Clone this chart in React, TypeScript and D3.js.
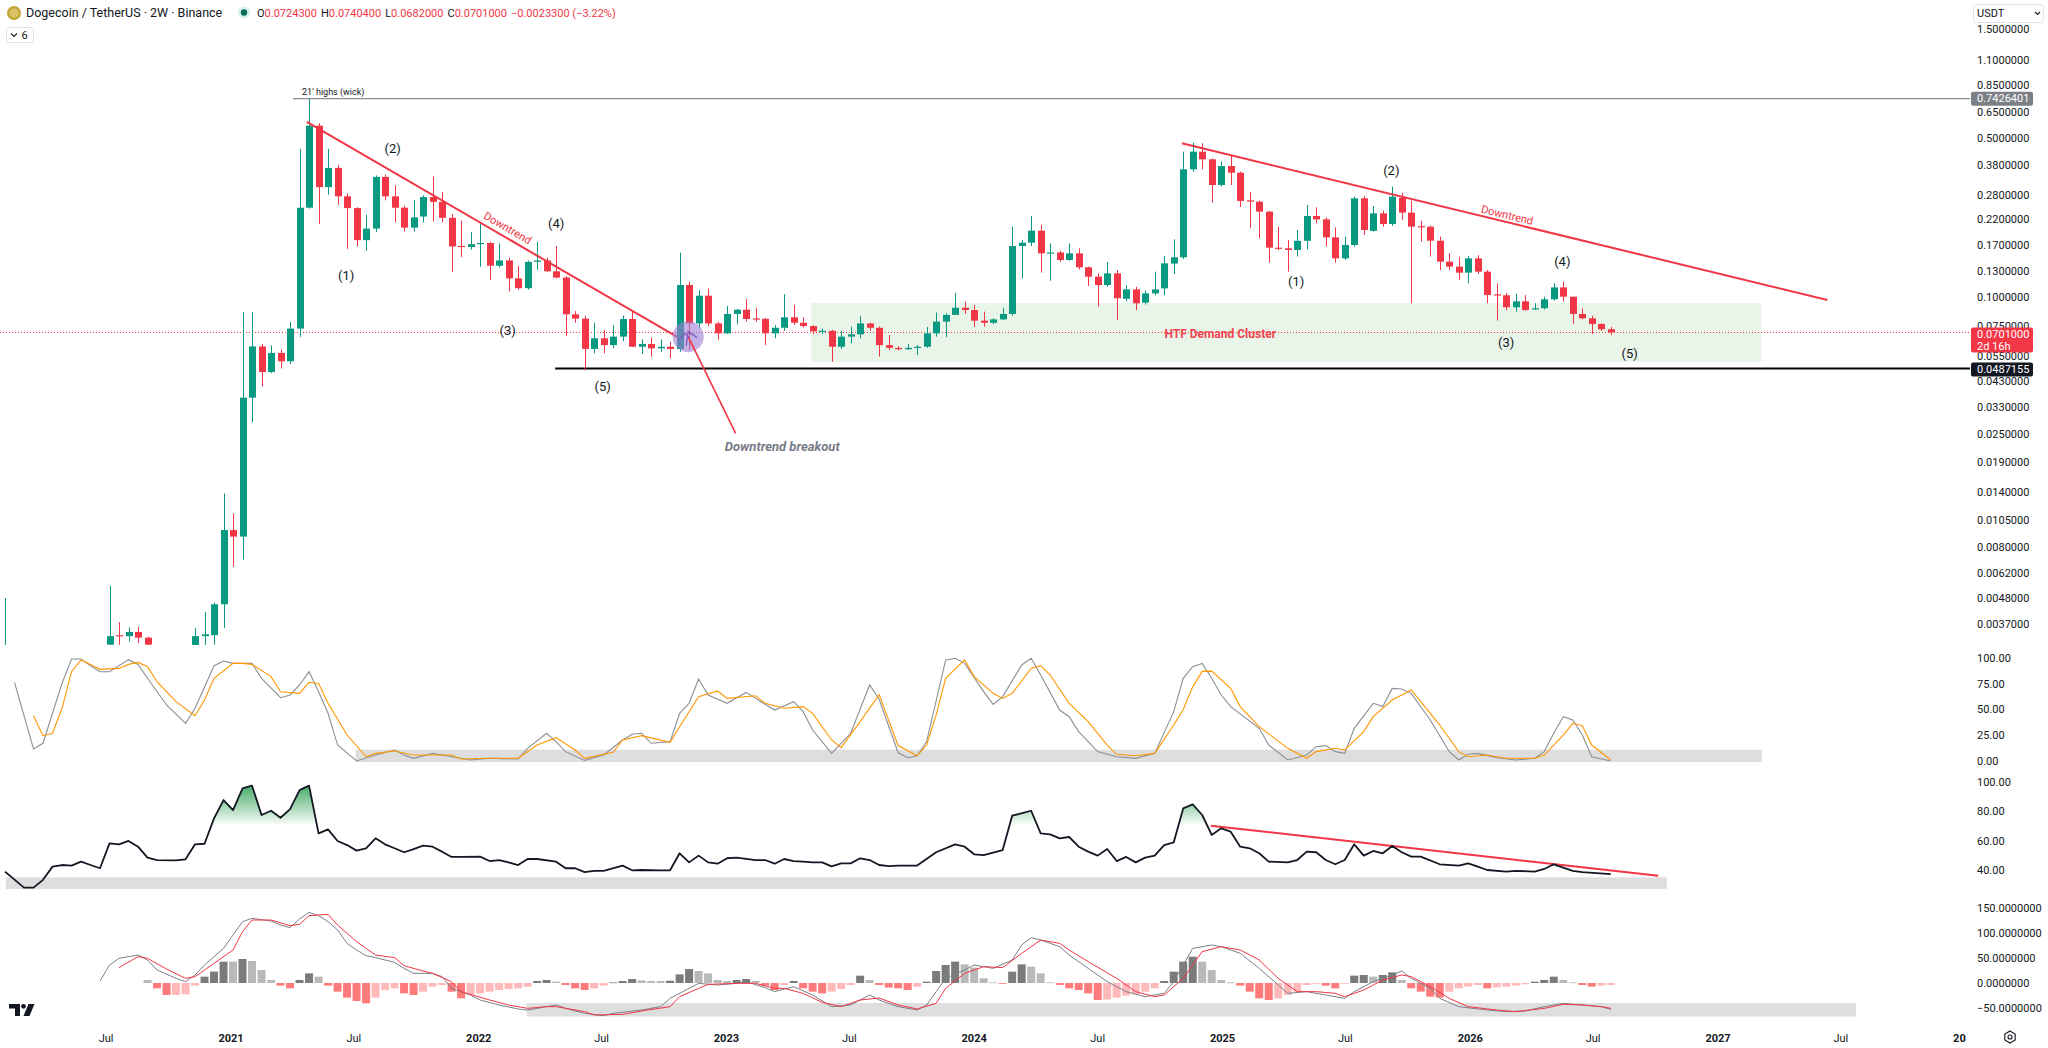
import React from 'react';
import * as d3 from 'd3';

// ---------- DATA ----------
// bar index k -> 2W bar opening 2020-07-06 + 14k days
// [k, open, high, low, close]
const candles: [number, number, number, number, number][] = [
  [-11, 0.0028, 0.0048, 0.0026, 0.0029],
  [0, 0.0030, 0.00544, 0.0029, 0.00327],
  [1, 0.0033, 0.00377, 0.0029, 0.00326],
  [2, 0.00327, 0.00357, 0.0031, 0.00341],
  [3, 0.00341, 0.0036, 0.00305, 0.00322],
  [4, 0.00322, 0.00325, 0.0029, 0.0030],
  [9, 0.0029, 0.00355, 0.0028, 0.00327],
  [10, 0.00327, 0.00417, 0.0029, 0.00333],
  [11, 0.0033, 0.0046, 0.003, 0.00451],
  [12, 0.00451, 0.0138, 0.00355, 0.00954],
  [13, 0.00954, 0.0113, 0.00658, 0.00893],
  [14, 0.00893, 0.086, 0.00708, 0.0363],
  [15, 0.0363, 0.086, 0.0283, 0.0609],
  [16, 0.0609, 0.0625, 0.0406, 0.047],
  [17, 0.047, 0.0615, 0.0465, 0.057],
  [18, 0.057, 0.059, 0.0487, 0.0524],
  [19, 0.0524, 0.0778, 0.051, 0.0729],
  [20, 0.0729, 0.447, 0.067, 0.247],
  [21, 0.247, 0.74, 0.245, 0.565],
  [22, 0.565, 0.58, 0.2097, 0.304],
  [23, 0.304, 0.447, 0.282, 0.369],
  [24, 0.369, 0.38, 0.254, 0.277],
  [25, 0.277, 0.285, 0.163, 0.246],
  [26, 0.246, 0.248, 0.167, 0.178],
  [27, 0.178, 0.23, 0.16, 0.2],
  [28, 0.2, 0.342, 0.193, 0.337],
  [29, 0.337, 0.345, 0.266, 0.277],
  [30, 0.277, 0.31, 0.213, 0.247],
  [31, 0.247, 0.252, 0.194, 0.202],
  [32, 0.202, 0.267, 0.194, 0.224],
  [33, 0.226, 0.28, 0.213, 0.275],
  [34, 0.275, 0.338, 0.215, 0.262],
  [35, 0.262, 0.29, 0.213, 0.223],
  [36, 0.223, 0.232, 0.129, 0.167],
  [37, 0.168, 0.217, 0.15, 0.166],
  [38, 0.166, 0.193, 0.162, 0.171],
  [39, 0.171, 0.212, 0.136, 0.173],
  [40, 0.173, 0.175, 0.119, 0.1375],
  [41, 0.1375, 0.172, 0.135, 0.145],
  [42, 0.145, 0.149, 0.106, 0.121],
  [43, 0.121, 0.137, 0.108, 0.1096],
  [44, 0.1096, 0.145, 0.108, 0.143],
  [45, 0.143, 0.175, 0.132, 0.145],
  [46, 0.145, 0.149, 0.129, 0.13],
  [47, 0.13, 0.168, 0.121, 0.122],
  [48, 0.122, 0.124, 0.0678, 0.0842],
  [49, 0.0842, 0.087, 0.0774, 0.0806],
  [50, 0.0806, 0.083, 0.0478, 0.0594],
  [51, 0.0594, 0.0773, 0.0568, 0.0661],
  [52, 0.0661, 0.0718, 0.0568, 0.0617],
  [53, 0.0617, 0.0755, 0.0598, 0.0672],
  [54, 0.0672, 0.0832, 0.0641, 0.0803],
  [55, 0.0803, 0.0879, 0.0605, 0.0607],
  [56, 0.0607, 0.0654, 0.0565, 0.0624],
  [57, 0.0624, 0.0666, 0.0549, 0.0597],
  [58, 0.0597, 0.0654, 0.0577, 0.0607],
  [59, 0.0607, 0.0639, 0.054, 0.0593],
  [60, 0.0593, 0.1569, 0.0577, 0.1132],
  [61, 0.1132, 0.117, 0.0587, 0.0768],
  [62, 0.0768, 0.1075, 0.0735, 0.1016],
  [63, 0.1016, 0.1094, 0.075, 0.0768],
  [64, 0.0768, 0.0782, 0.065, 0.0695],
  [65, 0.0695, 0.0915, 0.069, 0.0845],
  [66, 0.0845, 0.089, 0.0763, 0.0882],
  [67, 0.0882, 0.0983, 0.0782, 0.0803],
  [68, 0.0808, 0.09, 0.0782, 0.0803],
  [69, 0.0805, 0.081, 0.0617, 0.0695],
  [70, 0.0695, 0.0755, 0.0661, 0.0735],
  [71, 0.0735, 0.1033, 0.0713, 0.0817],
  [72, 0.0817, 0.0925, 0.0755, 0.0773],
  [73, 0.0773, 0.0817, 0.0738, 0.0748],
  [74, 0.0748, 0.0755, 0.069, 0.0709],
  [75, 0.0709, 0.073, 0.069, 0.0713],
  [76, 0.0713, 0.072, 0.0522, 0.0607],
  [77, 0.0607, 0.0713, 0.0593, 0.0672],
  [78, 0.0672, 0.0743, 0.0628, 0.0688],
  [79, 0.0688, 0.0827, 0.0661, 0.0768],
  [80, 0.0768, 0.0773, 0.0713, 0.0735],
  [81, 0.0735, 0.0743, 0.0549, 0.0617],
  [82, 0.0617, 0.0683, 0.0587, 0.06],
  [83, 0.06, 0.061, 0.0585, 0.0592],
  [84, 0.0592, 0.0624, 0.0587, 0.06],
  [85, 0.06, 0.0617, 0.0559, 0.0607],
  [86, 0.0607, 0.074, 0.06, 0.0695],
  [87, 0.0695, 0.0858, 0.0672, 0.0782],
  [88, 0.0782, 0.085, 0.0668, 0.0837],
  [89, 0.0837, 0.1045, 0.0837, 0.09],
  [90, 0.09, 0.0956, 0.0845, 0.0879],
  [91, 0.0879, 0.0925, 0.0743, 0.079],
  [92, 0.079, 0.0865, 0.0743, 0.0773],
  [93, 0.0773, 0.0808, 0.0763, 0.08],
  [94, 0.08, 0.09, 0.0795, 0.0845],
  [95, 0.0845, 0.2039, 0.083, 0.1678],
  [96, 0.1678, 0.178, 0.1207, 0.1735],
  [97, 0.1735, 0.2274, 0.1678, 0.1959],
  [98, 0.1959, 0.2084, 0.1282, 0.1558],
  [99, 0.1555, 0.1723, 0.1182, 0.1572],
  [100, 0.1572, 0.16, 0.1432, 0.1457],
  [101, 0.1457, 0.1723, 0.1445, 0.1558],
  [102, 0.1558, 0.1639, 0.1322, 0.1353],
  [103, 0.1353, 0.1362, 0.112, 0.1231],
  [104, 0.1231, 0.1273, 0.091, 0.1132],
  [105, 0.1132, 0.1427, 0.1113, 0.1273],
  [106, 0.1273, 0.1317, 0.0795, 0.099],
  [107, 0.0985, 0.113, 0.096, 0.1083],
  [108, 0.1083, 0.1113, 0.0879, 0.0941],
  [109, 0.0947, 0.107, 0.093, 0.104],
  [110, 0.104, 0.1295, 0.102, 0.1083],
  [111, 0.1094, 0.1517, 0.102, 0.1409],
  [112, 0.1405, 0.1795, 0.1265, 0.1497],
  [113, 0.1497, 0.4348, 0.147, 0.3638],
  [114, 0.3638, 0.476, 0.355, 0.4348],
  [115, 0.4348, 0.473, 0.3638, 0.4024],
  [116, 0.4024, 0.406, 0.2598, 0.3106],
  [117, 0.3106, 0.394, 0.3054, 0.3762],
  [118, 0.3762, 0.42, 0.3106, 0.3517],
  [119, 0.3517, 0.3553, 0.2488, 0.2644],
  [120, 0.266, 0.29, 0.2005, 0.2625],
  [121, 0.2625, 0.2652, 0.1813, 0.2373],
  [122, 0.2373, 0.239, 0.1418, 0.165],
  [123, 0.165, 0.2039, 0.1612, 0.1639],
  [124, 0.1639, 0.178, 0.1295, 0.1612],
  [125, 0.1612, 0.1972, 0.1508, 0.1768],
  [126, 0.1768, 0.2538, 0.1622, 0.2272],
  [127, 0.2272, 0.248, 0.2109, 0.2196],
  [128, 0.2196, 0.224, 0.1667, 0.1831],
  [129, 0.1831, 0.2025, 0.1418, 0.1481],
  [130, 0.1481, 0.1844, 0.1457, 0.1695],
  [131, 0.1695, 0.2761, 0.1667, 0.2715],
  [132, 0.2715, 0.278, 0.1875, 0.1972],
  [133, 0.1955, 0.251, 0.1939, 0.2333],
  [134, 0.2333, 0.24, 0.2039, 0.2095],
  [135, 0.2095, 0.3054, 0.2054, 0.2761],
  [136, 0.2733, 0.287, 0.2181, 0.235],
  [137, 0.235, 0.2652, 0.0941, 0.2039],
  [138, 0.205, 0.2165, 0.1753, 0.2039],
  [139, 0.2039, 0.206, 0.1508, 0.177],
  [140, 0.177, 0.1844, 0.1317, 0.1432],
  [141, 0.1432, 0.156, 0.1317, 0.1362],
  [142, 0.1362, 0.1502, 0.119, 0.1282],
  [143, 0.1282, 0.1517, 0.1151, 0.1481],
  [144, 0.1481, 0.153, 0.1265, 0.1295],
  [145, 0.1295, 0.1317, 0.0941, 0.1023],
  [146, 0.103, 0.1151, 0.079, 0.102],
  [147, 0.102, 0.1045, 0.0879, 0.0904],
  [148, 0.0904, 0.1037, 0.0865, 0.096],
  [149, 0.096, 0.1023, 0.0873, 0.0879],
  [150, 0.089, 0.0941, 0.0879, 0.0895],
  [151, 0.0895, 0.1006, 0.0885, 0.098],
  [152, 0.098, 0.1151, 0.0966, 0.1105],
  [153, 0.1105, 0.117, 0.096, 0.1006],
  [154, 0.1006, 0.1006, 0.0764, 0.0845],
  [155, 0.0845, 0.0894, 0.08, 0.0809],
  [156, 0.0809, 0.083, 0.069, 0.0764],
  [157, 0.0764, 0.0769, 0.0712, 0.0724],
  [158, 0.07243, 0.07404, 0.0682, 0.0701],
];

const priceTicks = [1.5, 1.1, 0.85, 0.65, 0.5, 0.38, 0.28, 0.22, 0.17, 0.13, 0.1, 0.075, 0.055, 0.043, 0.033, 0.025, 0.019, 0.014, 0.0105, 0.008, 0.0062, 0.0048, 0.0037];
const stochTicks = [100, 75, 50, 25, 0];
const rsiTicks = [100, 80, 60, 40];
const macdTicks = [150, 100, 50, 0, -50];
const timeTicks: [string, string, boolean][] = [
  ['2020-07-01', 'Jul', false], ['2021-01-01', '2021', true], ['2021-07-01', 'Jul', false],
  ['2022-01-01', '2022', true], ['2022-07-01', 'Jul', false], ['2023-01-01', '2023', true],
  ['2023-07-01', 'Jul', false], ['2024-01-01', '2024', true], ['2024-07-01', 'Jul', false],
  ['2025-01-01', '2025', true], ['2025-07-01', 'Jul', false], ['2026-01-01', '2026', true],
  ['2026-07-01', 'Jul', false], ['2027-01-01', '2027', true], ['2027-07-01', 'Jul', false],
  ['2028-01-01', '2028', true],
];

// Stoch RSI %K and %D  [k, value]
const stochK: [number, number][] = [
  [-10, 76.4], [-8, 11.7], [-7, 17.2], [-5, 75.3], [-4, 99], [-3, 99], [-2, 92.5], [-1, 86.7], [0, 86.7], [2, 98.4], [3, 93.8], [4, 80.3], [6, 54.4], [8, 36.6], [9, 51.2], [11, 92.5], [12, 97.1], [13, 94.8], [15, 94.8], [16, 80.3], [18, 61.5], [19, 64.1], [20, 73.8], [21, 86.7], [22, 67.3], [23, 46.3], [24, 15.5], [26, 0], [28, 5.8], [30, 10.7], [31, 5.8], [32, 2.6], [34, 7.4], [36, 4.2], [38, 1.0], [40, 2.6], [43, 1.9], [44, 12.3], [46, 26.9], [47, 18.8], [48, 9.1], [50, 0.6], [52, 5.8], [54, 20.4], [55, 25.9], [56, 26.9], [57, 17.2], [59, 18.8], [60, 46.3], [61, 56.0], [62, 79.6], [63, 64.1], [65, 56.0], [67, 66.6], [68, 60.8], [70, 49.5], [72, 57.6], [73, 47.9], [74, 30.1], [76, 7.4], [78, 26.9], [80, 73.8], [81, 60], [83, 8], [84, 3.2], [85, 5.1], [86, 18.8], [88, 98.1], [89, 99.7], [90, 94.8], [92, 67.3], [93, 55.0], [94, 62.5], [96, 93.2], [97, 99.7], [98, 83.5], [100, 49.5], [101, 43.0], [102, 28.5], [104, 9.1], [106, 4.2], [108, 2.6], [110, 7.4], [112, 47.9], [113, 80.3], [114, 91.6], [115, 94.8], [116, 80.3], [117, 64.1], [118, 52.8], [121, 31.7], [122, 15.5], [124, 1.0], [126, 5.8], [127, 13.9], [128, 14.9], [129, 9.1], [130, 7.4], [131, 31.7], [133, 56.0], [134, 52.8], [135, 70.5], [136, 69.9], [137, 65.7], [139, 39.8], [141, 9.1], [142, 1.0], [143, 6.5], [144, 7.4], [146, 3.2], [148, 1.0], [150, 2.6], [151, 9.1], [152, 26.9], [153, 43.0], [154, 39.8], [155, 25.2], [156, 4.2], [158, 0],
];
const stochD: [number, number][] = [
  [-8, 44.0], [-7, 24.6], [-6, 26.9], [-5, 51.2], [-4, 86.7], [-3, 98.1], [-2, 93.8], [-1, 89.0], [1, 89.9], [2, 93.8], [3, 95.7], [4, 91.6], [5, 77.0], [7, 57.6], [9, 44.0], [10, 59.2], [11, 80.3], [13, 94.8], [14, 94.8], [15, 93.8], [17, 81.9], [18, 67.3], [20, 65.7], [21, 76.4], [22, 75.3], [23, 56.0], [25, 25.2], [27, 4.2], [28, 7.4], [30, 9.7], [32, 5.8], [34, 5.8], [36, 5.8], [37, 1.9], [40, 2.6], [43, 2.6], [45, 15.5], [47, 22.7], [49, 10.7], [50, 2.6], [53, 8.4], [54, 20.4], [56, 24.6], [59, 18.1], [60, 33.3], [62, 62.5], [64, 68.0], [65, 60.8], [68, 63.4], [69, 56.0], [71, 51.2], [73, 52.8], [74, 46.3], [76, 20.4], [77, 13.0], [79, 38.2], [81, 64.4], [83, 15], [85, 5.1], [86, 15.5], [87, 44.7], [88, 80.3], [90, 98.1], [91, 81.9], [93, 65.7], [94, 60.8], [95, 65.7], [97, 89.9], [98, 92.5], [99, 83.5], [101, 56.0], [103, 38.2], [105, 15.5], [106, 6.5], [108, 5.1], [110, 7.4], [112, 34.9], [113, 50], [114, 72], [115, 87], [116, 87.3], [118, 70.5], [119, 52.8], [121, 33.3], [124, 12.3], [126, 2.6], [127, 9.1], [129, 12.3], [130, 10.7], [132, 28.5], [133, 43.0], [135, 59.2], [137, 69.0], [138, 57.6], [140, 34.9], [142, 9.1], [143, 4.2], [145, 5.8], [147, 2.6], [150, 2.6], [151, 5.8], [153, 25.2], [154, 36.6], [155, 34.3], [156, 15.5], [158, 1.0],
];

// RSI [k, value]
const rsi: [number, number][] = [
  [-11, 38.9], [-9, 28.0], [-8, 28.0], [-7, 33.3], [-6, 42.3], [-5, 43.4], [-4, 43.0], [-3, 45.7], [-2, 43.4], [-1, 41.2], [0, 58.2], [1, 57.5], [2, 59.8], [3, 55.9], [4, 48.4], [5, 46.8], [7, 46.6], [8, 47.3], [9, 57.5], [10, 57.9], [11, 75.2], [12, 87.7], [13, 80.9], [14, 95.6], [15, 97.5], [16, 77.5], [17, 80.4], [18, 75.6], [19, 81.5], [20, 94.5], [21, 97.5], [22, 65.0], [23, 67.7], [24, 59.8], [25, 57.0], [26, 53.2], [27, 54.8], [28, 61.6], [29, 57.5], [30, 54.8], [31, 52.1], [32, 54.3], [33, 56.6], [34, 55.9], [35, 52.5], [36, 48.9], [37, 48.9], [39, 49.1], [40, 46.1], [41, 46.8], [42, 45.2], [43, 43.4], [44, 47.5], [45, 47.5], [47, 45.7], [48, 41.2], [49, 41.2], [50, 38.5], [51, 39.4], [52, 39.4], [54, 43.0], [55, 39.8], [56, 40.0], [58, 39.8], [59, 39.8], [60, 51.4], [61, 45.2], [62, 49.8], [63, 45.2], [64, 44.3], [65, 48.0], [66, 48.4], [68, 46.8], [69, 46.8], [70, 44.3], [71, 47.5], [72, 46.1], [73, 45.7], [74, 45.2], [75, 45.2], [76, 42.5], [77, 44.5], [78, 44.5], [79, 48.0], [80, 46.8], [81, 43.4], [82, 42.7], [83, 43.0], [85, 43.0], [87, 52.1], [89, 57.5], [90, 55.9], [91, 50.7], [92, 50.2], [94, 53.6], [95, 77.0], [97, 80.4], [98, 65.0], [99, 64.3], [100, 61.6], [101, 62.5], [102, 55.9], [103, 52.5], [104, 49.8], [105, 54.3], [106, 46.1], [107, 48.9], [108, 45.2], [109, 48.4], [110, 49.8], [111, 57.0], [112, 58.8], [113, 82.0], [114, 84.7], [115, 77.5], [116, 63.9], [117, 68.4], [118, 66.1], [119, 55.9], [120, 54.8], [121, 51.4], [122, 45.7], [124, 45.2], [125, 46.8], [126, 52.5], [127, 52.1], [128, 46.8], [129, 43.9], [130, 46.8], [131, 57.5], [132, 49.8], [133, 53.0], [134, 51.4], [135, 56.4], [136, 52.1], [137, 49.1], [138, 49.1], [140, 43.9], [142, 43.0], [143, 44.5], [144, 42.3], [145, 40.0], [147, 38.9], [148, 39.4], [150, 38.9], [151, 40.7], [152, 43.9], [154, 39.4], [155, 38.5], [158, 37.2],
];

// MACD line, signal, histogram [k, value]
const macdLine: [number, number][] = [
  [-1, 4.0], [0, 36.0], [1, 49.3], [3, 56.0], [4, 46.0], [5, 26.0], [7, 9.3], [8, 2.7], [9, 16.0], [10, 36], [11, 52.7], [12, 69.3], [13, 96.0], [14, 122.7], [15, 129.3], [17, 124.0], [18, 116.0], [19, 110.7], [20, 128.0], [21, 141.3], [22, 134.7], [23, 122.7], [24, 106], [25, 79.3], [26, 66], [27, 54.7], [28, 50.7], [30, 41.3], [31, 29.3], [32, 19.3], [34, 19.3], [35, 12.7], [36, -10.7], [38, -24.0], [39, -34.0], [41, -44.0], [43, -52.0], [44, -54.0], [47, -44.0], [48, -50.7], [50, -60.7], [52, -65.3], [53, -60.7], [56, -54.0], [58, -47.3], [59, -30.7], [61, -10.7], [62, -0.7], [64, -4.0], [66, -0.7], [67, 2.7], [69, -9.3], [70, -17.3], [72, -7.3], [74, -24.0], [76, -47.3], [78, -44.0], [80, -24.0], [81, -34], [83, -47.3], [85, -54], [86, -44], [87, -17.3], [88, 9.3], [90, 26], [91, 36], [92, 32.7], [93, 29.3], [95, 46], [96, 76], [97, 90.7], [98, 86], [100, 72.7], [101, 56], [103, 29.3], [105, 2.7], [107, -17.3], [109, -27.3], [111, -20.7], [112, 2.7], [113, 36], [114, 69.3], [116, 76], [117, 72.7], [119, 59.3], [121, 29.3], [123, -4], [124, -20.7], [126, -17.3], [128, -24], [130, -30.7], [131, -17.3], [133, 2.7], [135, 16], [136, 24], [137, 9.3], [139, -10.7], [140, -30.7], [142, -47.3], [145, -54], [147, -57.3], [149, -56], [151, -47.3], [153, -40.7], [155, -44], [157, -47.3], [158, -52.7],
];
const macdSignal: [number, number][] = [
  [1, 30.7], [3, 52.7], [4, 49.3], [6, 28.0], [8, 9.3], [9, 12.7], [11, 39.3], [13, 66.0], [14, 102.7], [15, 126.0], [17, 126.0], [19, 114.7], [20, 117.3], [21, 134.7], [23, 137.3], [24, 116.0], [26, 82.7], [28, 56.0], [30, 50.7], [31, 34.7], [33, 24.0], [34, 19.3], [36, 2.7], [37, -17.3], [40, -34], [42, -44], [44, -50.7], [46, -47.3], [47, -47.3], [50, -57.3], [51, -64], [54, -62.7], [56, -56], [59, -47.3], [60, -27.3], [62, -10.7], [63, -2.7], [66, -0.7], [68, -0.7], [70, -10.7], [71, -10.7], [73, -20.7], [75, -38.7], [77, -47.3], [79, -34], [81, -30], [83, -44], [85, -52], [87, -40.7], [88, -10.7], [90, 19.3], [92, 32.7], [94, 30.7], [96, 59.3], [98, 86], [100, 79.3], [101, 66], [103, 42.7], [106, 9.3], [108, -17.3], [110, -27.3], [111, -24], [113, 9.3], [115, 62.7], [117, 72.7], [119, 66], [121, 46], [123, 9.3], [125, -17.3], [127, -17.3], [129, -20.7], [130, -27.3], [132, -14], [134, 6], [136, 16], [137, 12.7], [139, -7.3], [141, -30.7], [143, -47.3], [146, -54], [148, -57.3], [151, -50.7], [153, -42.7], [155, -44], [157, -47.3], [158, -50.7],
];
const macdHist: [number, number][] = [
  [4, 6], [5, -10.7], [6, -24], [7, -24], [8, -22.7], [9, -5.3], [10, 12.7], [11, 22.7], [12, 42.7], [13, 42.7], [14, 48], [15, 44], [16, 26], [17, 6], [18, -5.3], [19, -10.7], [20, 6], [21, 19.3], [22, 12.7], [23, -5.3], [24, -17.3], [25, -29.3], [26, -36], [27, -40.7], [28, -29.3], [29, -14], [30, -10.7], [31, -20.7], [32, -24], [33, -17.3], [34, -7.3], [35, -4], [36, -17.3], [37, -30.7], [38, -22.7], [39, -20.7], [40, -17.3], [41, -14], [42, -12], [43, -10.7], [44, -7.3], [45, 4], [46, 6], [47, 2.7], [48, -4], [49, -10.7], [50, -14], [51, -10.7], [52, -5.3], [53, 1.3], [54, 4], [55, 8], [56, 5.3], [57, 4], [58, 4], [59, 4.5], [60, 17.3], [61, 28], [62, 24], [63, 19.3], [64, 6], [65, 4], [66, 6], [67, 8], [68, 4], [69, -5.3], [70, -14], [71, -4], [72, 4], [73, -10.7], [74, -17.3], [75, -20.7], [76, -17.3], [77, -12], [78, -4], [79, 14.7], [80, 6], [81, -4], [82, -9], [83, -10.7], [84, -14], [85, -7.3], [86, 2.7], [87, 24], [88, 36], [89, 42.7], [90, 37.3], [91, 30.7], [92, 9.3], [93, 1.3], [94, -0.7], [95, 22.7], [96, 37.3], [97, 32.7], [98, 19.3], [99, 1.3], [100, -4], [101, -10.7], [102, -14], [103, -20.7], [104, -34], [105, -33], [106, -29.3], [107, -25.3], [108, -22.7], [109, -17.3], [110, -10.7], [111, 4], [112, 22.7], [113, 42.7], [114, 52.7], [115, 42.7], [116, 26], [117, 6], [118, 1.3], [119, -5.3], [120, -17.3], [121, -30.7], [122, -34], [123, -30.7], [124, -24], [125, -17.3], [126, -4], [127, -1.3], [128, -5.3], [129, -10.7], [130, -1.3], [131, 14.7], [132, 16], [133, 12.7], [134, 16], [135, 21.3], [136, 6], [137, -10.7], [138, -17.3], [139, -27.3], [140, -29.3], [141, -17.3], [142, -10.7], [143, -7.3], [144, -4], [145, -10.7], [146, -8.7], [147, -7.3], [148, -5.3], [149, -2.7], [150, 2.7], [151, 6], [152, 12.7], [153, 6], [154, 1.3], [155, -4], [156, -7.3], [157, -5.3], [158, -4],
];

// Drawings in chart coordinates [k, price]
const highsLevel = 0.7426401;
const highsStartK = 19.3;
const supportLevel = 0.0487155;
const supportStartK = 46.9;
const lastPrice = 0.0701;
const downtrend1: [number, number][] = [[20.76, 0.587], [59.74, 0.067]];
const downtrend2: [number, number][] = [[112.86, 0.473], [180.8, 0.0973]];
const breakoutLine: [number, number][] = [[60.9, 0.0672], [65.9, 0.0253]];
const breakoutCircle: [number, number] = [60.9, 0.0672];
const demandZone = { k0: 73.85, k1: 173.85, pTop: 0.0944, pBottom: 0.052 };
const waveLabels: [number, number, string][] = [
  [24.9, 0.1246, '(1)'], [29.8, 0.449, '(2)'], [41.9, 0.0718, '(3)'], [47.0, 0.2117, '(4)'], [51.9, 0.0405, '(5)'],
  [124.9, 0.117, '(1)'], [134.9, 0.361, '(2)'], [147.0, 0.0635, '(3)'], [152.9, 0.1432, '(4)'], [160.0, 0.0568, '(5)'],
];
const rsiTrend: [number, number][] = [[115.9, 70.2], [163.0, 36.1]];
const stochBand = { k0: 25.9, k1: 173.9, v0: -1, v1: 11 };
const rsiBand = { k0: -10.9, k1: 163.9, v0: 27, v1: 35 };
const macdBand = { k0: 43.9, k1: 183.8, v0: -67, v1: -40 };

// ---------- SCALES ----------
const W = 2048, H = 1048;
const PR = 1970;
const DAY = 86400000;
const T0 = Date.UTC(2020, 6, 6);
const barDate = (k: number) => new Date(T0 + k * 14 * DAY);
const xScale = d3.scaleTime().domain([new Date(Date.UTC(2021, 0, 1)), new Date(Date.UTC(2027, 0, 1))]).range([231, 1718]);
const bx = (k: number) => xScale(barDate(k));
const yP = d3.scaleLog().domain([0.0029895, 2.0101]).range([645, 0]);
const yS = d3.scaleLinear().domain([0, 100]).range([761, 658]);
const yR = d3.scaleLinear().domain([40, 100]).range([870, 782]);
const yM = d3.scaleLinear().domain([-50, 150]).range([1008, 908]);

const GREEN = '#089981';
const RED = '#f23645';
const TXT = '#131722';
const FONT = 'Roboto, "Noto Sans", sans-serif';
const fmt7 = d3.format('.7f');
const fmt2 = d3.format('.2f');

const lineOf = (ys: (v: number) => number) => d3.line<[number, number]>().x(d => bx(d[0])).y(d => ys(d[1]));

function App() {
  const angle1 = Math.atan2(yP(downtrend1[1][1]) - yP(downtrend1[0][1]), bx(downtrend1[1][0]) - bx(downtrend1[0][0])) * 180 / Math.PI;
  const angle2 = Math.atan2(yP(downtrend2[1][1]) - yP(downtrend2[0][1]), bx(downtrend2[1][0]) - bx(downtrend2[0][0])) * 180 / Math.PI;
  const rsiArea = d3.area<[number, number]>().x(d => bx(d[0])).y0(yR(70)).y1(d => yR(d[1]));
  const cx = bx(breakoutCircle[0]), cy = yP(breakoutCircle[1]);
  const histColor = (i: number) => {
    const v = macdHist[i][1];
    const prev = i > 0 ? macdHist[i - 1][1] : v;
    if (v >= 0) return v > prev ? '#7b7b7b' : '#b9b9b9';
    return v < prev ? '#ff7b7b' : '#ffb9b9';
  };
  const axisLabel = (y: number, t: string, key: string) => (
    <text key={key} x={1977} y={y} dy="0.35em" fontSize={11} fill={TXT} fontFamily={FONT}>{t}</text>
  );
  return (
    <div style={{ position: 'absolute', left: 0, top: 0, width: W, height: H, background: '#fff', overflow: 'hidden' }}>
      <svg width={W} height={H} viewBox={`0 0 ${W} ${H}`} style={{ display: 'block' }}>
        <defs>
          <clipPath id="cMain"><rect x={0} y={0} width={PR} height={645} /></clipPath>
          <clipPath id="cStoch"><rect x={0} y={645} width={PR} height={128} /></clipPath>
          <clipPath id="cRsi"><rect x={0} y={773} width={PR} height={126} /></clipPath>
          <clipPath id="cRsiOB"><rect x={0} y={773} width={PR} height={yR(70) - 773} /></clipPath>
          <clipPath id="cMacd"><rect x={0} y={899} width={PR} height={126} /></clipPath>
          <clipPath id="cTime"><rect x={0} y={1025} width={1966} height={23} /></clipPath>
          <linearGradient id="gOB" gradientUnits="userSpaceOnUse" x1={0} x2={0} y1={yR(100)} y2={yR(70)}>
            <stop offset="0" stopColor="#1f9a47" stopOpacity={0.9} />
            <stop offset="1" stopColor="#1f9a47" stopOpacity={0} />
          </linearGradient>
        </defs>
        <rect x={0} y={0} width={W} height={H} fill="#fff" />

        {/* ===== MAIN PANE ===== */}
        <g clipPath="url(#cMain)">
          <rect x={bx(demandZone.k0)} y={yP(demandZone.pTop)} width={bx(demandZone.k1) - bx(demandZone.k0)} height={yP(demandZone.pBottom) - yP(demandZone.pTop)} fill="#4caf50" fillOpacity={0.13} />
          <line x1={0} x2={PR} y1={yP(lastPrice)} y2={yP(lastPrice)} stroke={RED} strokeWidth={1} strokeDasharray="1 2" />
          <line x1={bx(highsStartK)} x2={PR} y1={yP(highsLevel)} y2={yP(highsLevel)} stroke="#8a8d96" strokeWidth={1.2} />
          <line x1={bx(supportStartK)} x2={PR} y1={yP(supportLevel)} y2={yP(supportLevel)} stroke="#000" strokeWidth={2} />
          {candles.map(([k, o, h, l, c]) => {
            const x = Math.round(bx(k));
            const col = c >= o ? GREEN : RED;
            const yt = yP(Math.max(o, c)), yb = yP(Math.min(o, c));
            return (
              <g key={k}>
                <line x1={x + 0.5} x2={x + 0.5} y1={yP(h)} y2={yP(l)} stroke={col} strokeWidth={1} />
                <rect x={x - 3} y={yt} width={7} height={Math.max(1.2, yb - yt)} fill={col} />
              </g>
            );
          })}
          <path d={lineOf(yP)(downtrend1) || ''} stroke={RED} strokeWidth={2} fill="none" />
          <path d={lineOf(yP)(downtrend2) || ''} stroke={RED} strokeWidth={2} fill="none" />
          <circle cx={cx} cy={cy} r={15.5} fill="#9c7fd6" fillOpacity={0.6} />
          <path d={lineOf(yP)(breakoutLine) || ''} stroke={RED} strokeWidth={1.6} fill="none" />
          <path d={`M${cx - 9},${cy + 3} L${cx - 3},${cy - 3} L${cx + 1},${cy + 1} M${cx - 2},${cy + 9} L${cx},${cy - 5} L${cx + 9},${cy + 1}`} stroke="#7e57c2" strokeWidth={1.3} fill="none" />
          <text x={bx(20.26)} y={yP(0.77)} fontSize={9} fill={TXT} fontFamily={FONT}>21' highs (wick)</text>
          {waveLabels.map(([k, p, t], i) => (
            <text key={'w' + i} x={bx(k)} y={yP(p)} dy="0.35em" textAnchor="middle" fontSize={13} fill={TXT} fontFamily={FONT}>{t}</text>
          ))}
          <text transform={`translate(${bx(41.9)},${yP(0.2012)}) rotate(${angle1})`} textAnchor="middle" dy="0.35em" fontSize={11} fill={RED} fontFamily={FONT}>Downtrend</text>
          <text transform={`translate(${bx(147.1)},${yP(0.2295)}) rotate(${angle2})`} textAnchor="middle" dy="0.35em" fontSize={11} fill={RED} fontFamily={FONT}>Downtrend</text>
          <text x={bx(116.9)} y={yP(0.069)} dy="0.35em" textAnchor="middle" fontSize={12} fontWeight="bold" fill="#f0434f" fontFamily={FONT}>HTF Demand Cluster</text>
          <text x={bx(70.8)} y={yP(0.02228)} dy="0.35em" textAnchor="middle" fontSize={13} fontWeight="bold" fontStyle="italic" fill="#787b86" fontFamily={FONT}>Downtrend breakout</text>
        </g>

        {/* price axis */}
        {priceTicks.map(p => axisLabel(yP(p), fmt7(p), 'p' + p))}
        <g>
          <rect x={1971} y={yP(highsLevel) - 7} width={62} height={14} rx={2} fill="#7d7f87" />
          <text x={1977} y={yP(highsLevel)} dy="0.35em" fontSize={11} fill="#fff" fontFamily={FONT}>{fmt7(highsLevel)}</text>
          <rect x={1971} y={yP(lastPrice) - 5} width={62} height={25} rx={2} fill={RED} />
          <text x={1977} y={yP(lastPrice) + 2} dy="0.35em" fontSize={11} fill="#fff" fontFamily={FONT}>{fmt7(lastPrice)}</text>
          <text x={1977} y={yP(lastPrice) + 13.5} dy="0.35em" fontSize={11} fill="#fff" fontFamily={FONT}>2d 16h</text>
          <rect x={1971} y={yP(supportLevel) - 6} width={62} height={14} rx={2} fill={TXT} />
          <text x={1977} y={yP(supportLevel) + 1} dy="0.35em" fontSize={11} fill="#fff" fontFamily={FONT}>{fmt7(supportLevel)}</text>
        </g>
        <rect x={1973.5} y={4.5} width={70} height={18} rx={3} fill="#fff" stroke="#e0e3eb" />
        <text x={1977} y={13.5} dy="0.35em" fontSize={11} fill={TXT} fontFamily={FONT}>USDT</text>
        <path d="M2035,12 l2.5,2.5 l2.5,-2.5" stroke={TXT} strokeWidth={1.1} fill="none" />

        {/* header */}
        <circle cx={14} cy={13} r={7} fill="#c2a633" />
        <circle cx={14} cy={13} r={4.6} fill="#dcc26a" />
        <text x={26} y={13} dy="0.35em" fontSize={12.5} fill={TXT} fontFamily={FONT}>Dogecoin / TetherUS · 2W · Binance</text>
        <circle cx={244} cy={12.5} r={6} fill="#089981" fillOpacity={0.15} />
        <circle cx={244} cy={12.5} r={3.2} fill="#0b6e5d" />
        <text x={257} y={13} dy="0.35em" fontSize={11} fontFamily={FONT}>
          <tspan fill={TXT}>O</tspan><tspan fill={RED}>0.0724300</tspan>
          <tspan fill={TXT} dx={4}>H</tspan><tspan fill={RED}>0.0740400</tspan>
          <tspan fill={TXT} dx={4}>L</tspan><tspan fill={RED}>0.0682000</tspan>
          <tspan fill={TXT} dx={4}>C</tspan><tspan fill={RED}>0.0701000</tspan>
          <tspan fill={RED} dx={4}>−0.0023300 (−3.22%)</tspan>
        </text>
        <rect x={6.5} y={27.5} width={27} height={15} rx={3} fill="#fff" stroke="#e0e3eb" />
        <path d="M11,33.5 l3,3 l3,-3" stroke={TXT} strokeWidth={1.1} fill="none" />
        <text x={21.5} y={35} dy="0.35em" fontSize={11} fill={TXT} fontFamily={FONT}>6</text>

        {/* ===== STOCH RSI ===== */}
        <g clipPath="url(#cStoch)">
          <rect x={bx(stochBand.k0)} y={yS(stochBand.v1)} width={bx(stochBand.k1) - bx(stochBand.k0)} height={yS(stochBand.v0) - yS(stochBand.v1)} fill="#dedede" />
          <path d={lineOf(yS)(stochK) || ''} stroke="#8c8f96" strokeWidth={1.1} fill="none" />
          <path d={lineOf(yS)(stochD) || ''} stroke="#ff9800" strokeWidth={1.1} fill="none" />
        </g>
        {stochTicks.map(v => axisLabel(yS(v), fmt2(v), 's' + v))}

        {/* ===== RSI ===== */}
        <g clipPath="url(#cRsi)">
          <rect x={bx(rsiBand.k0)} y={yR(rsiBand.v1)} width={bx(rsiBand.k1) - bx(rsiBand.k0)} height={yR(rsiBand.v0) - yR(rsiBand.v1)} fill="#dedede" />
          <path d={rsiArea(rsi) || ''} fill="url(#gOB)" clipPath="url(#cRsiOB)" />
          <path d={lineOf(yR)(rsiTrend) || ''} stroke={RED} strokeWidth={2} fill="none" />
          <path d={lineOf(yR)(rsi) || ''} stroke={TXT} strokeWidth={1.8} fill="none" strokeLinejoin="round" />
        </g>
        {rsiTicks.map(v => axisLabel(yR(v), fmt2(v), 'r' + v))}

        {/* ===== MACD ===== */}
        <g clipPath="url(#cMacd)">
          <rect x={bx(macdBand.k0)} y={yM(macdBand.v1)} width={bx(macdBand.k1) - bx(macdBand.k0)} height={yM(macdBand.v0) - yM(macdBand.v1)} fill="#dedede" />
          {macdHist.map(([k, v], i) => (
            <rect key={'h' + k} x={bx(k) - 4} y={Math.min(yM(v), yM(0))} width={8} height={Math.max(0.8, Math.abs(yM(v) - yM(0)))} fill={histColor(i)} />
          ))}
          <path d={lineOf(yM)(macdLine) || ''} stroke="#7d7f87" strokeWidth={1} fill="none" />
          <path d={lineOf(yM)(macdSignal) || ''} stroke={RED} strokeWidth={1} fill="none" />
        </g>
        {macdTicks.map(v => axisLabel(yM(v), fmt7(v).replace('-', '−'), 'm' + v))}

        {/* ===== TIME AXIS ===== */}
        <g clipPath="url(#cTime)">
          {timeTicks.map(([d, t, bold]) => (
            <text key={d} x={xScale(new Date(d + 'T00:00:00Z'))} y={1038} dy="0.35em" textAnchor="middle" fontSize={11} fontWeight={bold ? 'bold' : 'normal'} fill={TXT} fontFamily={FONT}>{t}</text>
          ))}
        </g>
        <g transform="translate(2010,1037)" fill="none" stroke={TXT} strokeWidth={1.1}>
          <path d="M0,-6 L5.2,-3 L5.2,3 L0,6 L-5.2,3 L-5.2,-3 Z" />
          <circle r={2} />
        </g>

        {/* TradingView logo */}
        <g fill={TXT}>
          <path d="M9,1004 H20 V1016 H15 V1008.5 H9 Z" />
          <circle cx={23.5} cy={1006.3} r={2.4} />
          <path d="M28.5,1004 H34.5 L29.5,1016 H23.5 Z" />
        </g>
      </svg>
    </div>
  );
}

export default App;
